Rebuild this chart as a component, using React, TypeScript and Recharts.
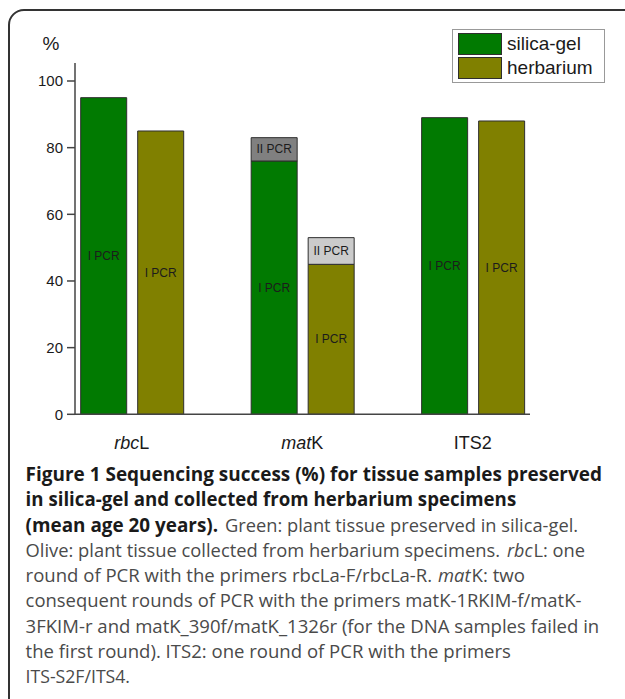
import React, { useLayoutEffect, useRef, useState } from "react";
import { BarChart, Bar, XAxis, YAxis, LabelList, Legend } from "recharts";

const categories = ["rbcL", "matK", "ITS2"];
const silicaFirst = [95, 76, 89];
const silicaSecond = [0, 7, 0];
const herbFirst = [85, 45, 88];
const herbSecond = [0, 8, 0];
const yTicks = [0, 20, 40, 60, 80, 100];
const seriesNames = ["silica-gel", "herbarium"];

const GREEN = "#017a01";
const OLIVE = "#808000";
const DARKGRAY = "#808080";
const LIGHTGRAY = "#cbcbcb";
const STROKE = "#2e2e2e";

const data = categories.map((c, i) => ({
  cat: c,
  s1: silicaFirst[i],
  s2: silicaSecond[i],
  h1: herbFirst[i],
  h2: herbSecond[i],
}));

const tickParts: Record<string, { t: string; i: boolean }[]> = {
  rbcL: [
    { t: "rbc", i: true },
    { t: "L", i: false },
  ],
  matK: [
    { t: "mat", i: true },
    { t: "K", i: false },
  ],
  ITS2: [{ t: "ITS2", i: false }],
};

const XTick = (props: any) => {
  const { x, y, payload } = props;
  const parts = tickParts[payload.value] || [{ t: payload.value, i: false }];
  return (
    <text x={x} y={y + 27} textAnchor="middle" fontSize={18} fill="#1a1a1a" fontFamily="'Liberation Sans', Arial, sans-serif">
      {parts.map((p, k) => (
        <tspan key={k} fontStyle={p.i ? "italic" : "normal"}>
          {p.t}
        </tspan>
      ))}
    </text>
  );
};

const makeLabel = (txt: string) => (props: any) => {
  const { x, y, width, height, value } = props;
  if (!value) return null;
  return (
    <text
      x={x + width / 2}
      y={y + height / 2}
      textAnchor="middle"
      dominantBaseline="central"
      fontSize={12}
      fill="#1c1c1c"
      fontFamily="'Liberation Sans', Arial, sans-serif"
    >
      {txt}
    </text>
  );
};

const LegendBox = () => (
  <div
    style={{
      width: 153,
      height: 54,
      border: "1px solid #999",
      background: "#fff",
      boxSizing: "border-box",
      fontFamily: "'Liberation Sans', Arial, sans-serif",
      fontSize: 19,
      color: "#1a1a1a",
      position: "relative",
    }}
  >
    {seriesNames.map((n, i) => (
      <div key={n} style={{ position: "absolute", left: 5, top: 3 + i * 24, height: 22, display: "flex", alignItems: "center" }}>
        <div
          style={{
            width: 44,
            height: 22,
            background: i === 0 ? GREEN : OLIVE,
            border: `1px solid ${STROKE}`,
            boxSizing: "border-box",
            marginRight: 5,
          }}
        />
        <span style={{ lineHeight: "22px" }}>{n}</span>
      </div>
    ))}
  </div>
);

type Seg = { t: string; x0: number; x1: number; b?: boolean };
const captionLines: Seg[][] = [
  [{ t: "Figure 1 Sequencing success (%) for tissue samples preserved", x0: 25.6, x1: 602, b: true }],
  [{ t: "in silica-gel and collected from herbarium specimens", x0: 25.6, x1: 516, b: true }],
  [
    { t: "(mean age 20 years).", x0: 25.6, x1: 218, b: true },
    { t: "Green: plant tissue preserved in silica-gel.", x0: 225, x1: 578 },
  ],
  [
    { t: "Olive: plant tissue collected from herbarium specimens.", x0: 25.6, x1: 500 },
    { t: "rbc", x0: 507, x1: 532.5 },
    { t: "L: one", x0: 533.5, x1: 585 },
  ],
  [
    { t: "round of PCR with the primers rbcLa-F/rbcLa-R.", x0: 25.6, x1: 432 },
    { t: "mat", x0: 438, x1: 470.5 },
    { t: "K: two", x0: 471.5, x1: 525 },
  ],
  [{ t: "consequent rounds of PCR with the primers matK-1RKIM-f/matK-", x0: 25.6, x1: 581 }],
  [{ t: "3FKIM-r and matK_390f/matK_1326r (for the DNA samples failed in", x0: 25.6, x1: 599 }],
  [{ t: "the first round). ITS2: one round of PCR with the primers", x0: 25.6, x1: 511 }],
  [{ t: "ITS-S2F/ITS4.", x0: 25.6, x1: 130 }],
];
const italicSegs = new Set(["rbc", "mat"]);

const CaptionSeg = ({ s, y }: { s: Seg; y: number }) => {
  const ref = useRef<SVGTextElement>(null);
  const [sx, setSx] = useState(0.86);
  useLayoutEffect(() => {
    const el = ref.current;
    if (el) {
      const w = el.getComputedTextLength();
      if (w > 0) setSx((s.x1 - s.x0) / w);
    }
  }, [s]);
  return (
    <text
      ref={ref}
      x={0}
      y={0}
      transform={`translate(${s.x0},${y}) scale(${sx},1)`}
      fontSize={19}
      fontFamily="'Open Sans', sans-serif"
      fontWeight={s.b ? 700 : 400}
      fontStyle={italicSegs.has(s.t) ? "italic" : "normal"}
      fill={s.b ? "#1a1a1a" : "#4a4a4a"}
    >
      {s.t}
    </text>
  );
};

export default function App() {
  return (
    <div style={{ position: "absolute", left: 0, top: 0, width: 625, height: 699, overflow: "hidden", background: "#fff" }}>
      <div
        style={{
          position: "absolute",
          left: 8,
          top: 9,
          width: 680,
          height: 760,
          border: "2px solid #333",
          borderRadius: 16,
          boxSizing: "border-box",
        }}
      />
      <div style={{ position: "absolute", left: 0, top: 0 }}>
        <BarChart
          width={625}
          height={470}
          data={data}
          margin={{ top: 63, right: 95, left: 15, bottom: 25.7 }}
          barCategoryGap="20%"
          barGap={11}
        >
          <XAxis
            dataKey="cat"
            height={30}
            padding={{ left: -28.4, right: -28 }}
            axisLine={{ stroke: "#444", strokeWidth: 1.5 }}
            tickLine={false}
            tick={<XTick />}
            interval={0}
          />
          <YAxis
            width={60}
            domain={[0, 105.4]}
            ticks={yTicks}
            allowDataOverflow
            axisLine={{ stroke: "#444", strokeWidth: 1.5 }}
            tickLine={{ stroke: "#444", strokeWidth: 1.5 }}
            tickSize={8}
            tickMargin={4}
            tick={{ fontSize: 15, fill: "#1a1a1a", fontFamily: "'Liberation Sans', Arial, sans-serif" }}
          />
          <Legend
            layout="horizontal"
            verticalAlign="middle"
            align="center"
            content={<LegendBox />}
            wrapperStyle={{ position: "absolute", left: 452, top: 29, width: 153, height: 54, margin: 0 }}
          />
          <Bar dataKey="s1" stackId="s" fill={GREEN} stroke={STROKE} strokeWidth={1} isAnimationActive={false}>
            <LabelList dataKey="s1" content={makeLabel("I PCR")} />
          </Bar>
          <Bar dataKey="s2" stackId="s" fill={DARKGRAY} stroke={STROKE} strokeWidth={1} isAnimationActive={false}>
            <LabelList dataKey="s2" content={makeLabel("II PCR")} />
          </Bar>
          <Bar dataKey="h1" stackId="h" fill={OLIVE} stroke={STROKE} strokeWidth={1} isAnimationActive={false}>
            <LabelList dataKey="h1" content={makeLabel("I PCR")} />
          </Bar>
          <Bar dataKey="h2" stackId="h" fill={LIGHTGRAY} stroke={STROKE} strokeWidth={1} isAnimationActive={false}>
            <LabelList dataKey="h2" content={makeLabel("II PCR")} />
          </Bar>
        </BarChart>
      </div>
      <svg
        width={625}
        height={699}
        style={{ position: "absolute", left: 0, top: 0, pointerEvents: "none" }}
      >
        <text x={51} y={50} textAnchor="middle" fontSize={19} fill="#1a1a1a" fontFamily="'Liberation Sans', Arial, sans-serif">
          %
        </text>
        {captionLines.map((segs, li) =>
          segs.map((s, k) => <CaptionSeg key={`${li}-${k}`} s={s} y={481 + li * 25.25} />)
        )}
      </svg>
    </div>
  );
}
